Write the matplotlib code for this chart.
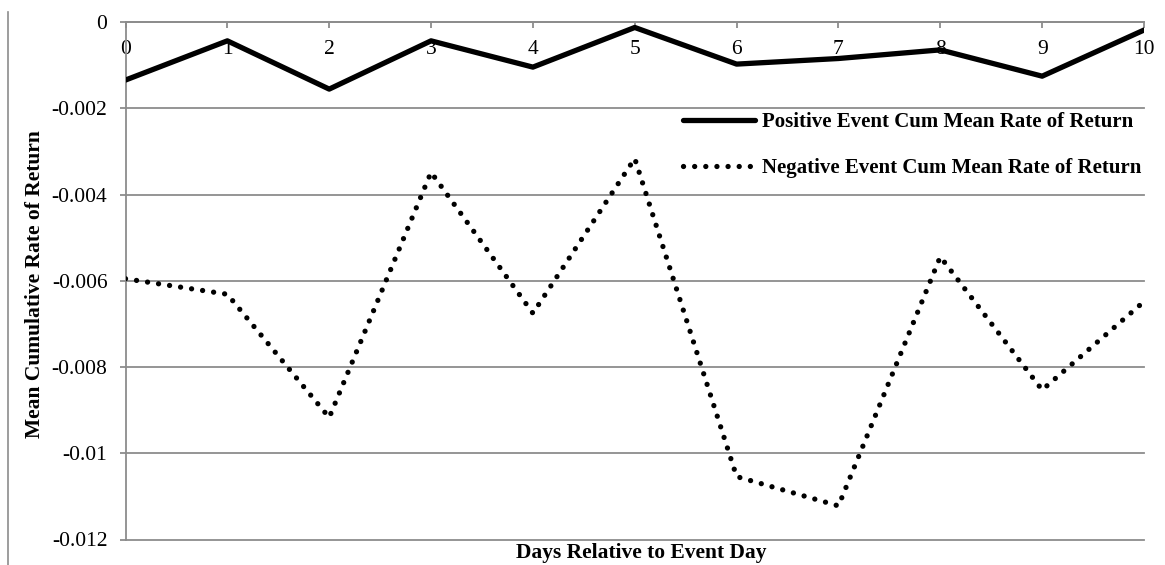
import matplotlib
matplotlib.use("Agg")
import matplotlib.pyplot as plt
from matplotlib.lines import Line2D

# Days relative to the event day
days = [0, 1, 2, 3, 4, 5, 6, 7, 8, 9, 10]

# Cumulative mean rate of return
positive = [-0.00134, -0.00043, -0.00155, -0.00043, -0.00104, -0.00012,
            -0.00097, -0.00084, -0.00064, -0.00125, -0.00018]
negative = [-0.00595, -0.00631, -0.00917, -0.00348, -0.00675, -0.00316,
            -0.01054, -0.01122, -0.00544, -0.00853, -0.00648]

y_ticks = [0, -0.002, -0.004, -0.006, -0.008, -0.01, -0.012]
y_tick_labels = ["0", "-0.002", "-0.004", "-0.006", "-0.008", "-0.01", "-0.012"]

plt.rcParams['font.family'] = ['Liberation Serif', 'DejaVu Serif']

W, H = 1165, 565
fig = plt.figure(figsize=(W / 100, H / 100), dpi=100)
ax = fig.add_axes([125.5 / W, 1 - 539.5 / H, (1144 - 125.5) / W, (539.5 - 22.3) / H])

grey = '#8c8c8c'

ax.plot(days, positive, color='black', linewidth=3.8, solid_capstyle='round',
        solid_joinstyle='round', label='Positive Event Cum Mean Rate of Return', zorder=3)
ax.plot(days, negative, color='black', linewidth=3.8, linestyle=(0, (0.01, 2.1)),
        dash_capstyle='round', label='Negative Event Cum Mean Rate of Return', zorder=3)

ax.set_xlim(0, 10)
ax.set_ylim(-0.012, 0)
ax.set_xticks(days)
ax.set_xticklabels([str(d) for d in days])
ax.set_yticks(y_ticks)
ax.set_yticklabels(y_tick_labels)

# horizontal gridlines
for yv in y_ticks:
    ax.axhline(yv, color=grey, linewidth=1.3, zorder=1, clip_on=False)

# x axis sits on the zero line
ax.spines['bottom'].set_position(('data', 0))
ax.spines['bottom'].set_color(grey)
ax.spines['bottom'].set_linewidth(1.3)
ax.spines['left'].set_color(grey)
ax.spines['left'].set_linewidth(1.3)
ax.spines['top'].set_visible(False)
ax.spines['right'].set_visible(False)

ax.tick_params(axis='x', direction='out', length=4, width=1.3, color=grey,
               labelsize=15.5, pad=9)
ax.tick_params(axis='y', direction='out', length=4, width=1.3, color=grey,
               labelsize=15.5, pad=9)

fig.text(35 / W, 1 - 284 / H, 'Mean Cumulative Rate of Return', rotation=90,
         ha='center', va='center', fontsize=15.5, fontweight='bold')
fig.text(641 / W, 1 - 553 / H, 'Days Relative to Event Day',
         ha='center', va='center', fontsize=15.5, fontweight='bold')

ax.legend(loc='upper left', bbox_to_anchor=(683 / W, 1 - 112 / H),
          bbox_transform=fig.transFigure, frameon=False, borderpad=0,
          borderaxespad=0, handlelength=3.45, handletextpad=0.35,
          labelspacing=1.25, prop={'size': 15, 'weight': 'bold'})

# left border of the chart area
fig.add_artist(Line2D([8 / W, 8 / W], [0, 1 - 12 / H], color=grey, linewidth=1.2))

fig.savefig('out.png', dpi=100)
plt.close(fig)
